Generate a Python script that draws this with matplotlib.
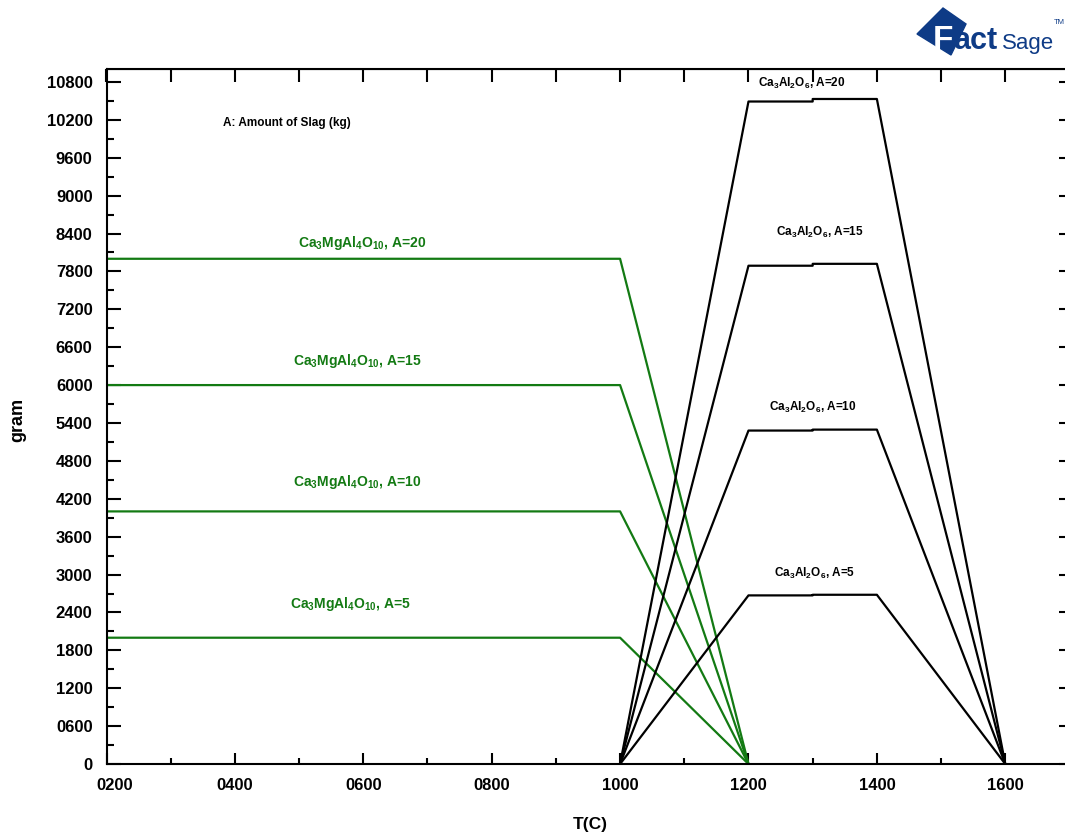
import matplotlib
matplotlib.use('Agg')
import matplotlib.pyplot as plt
from matplotlib.patches import Polygon
from matplotlib.transforms import ScaledTranslation

plt.rcParams['font.family'] = ['Liberation Sans', 'DejaVu Sans']
plt.rcParams['font.weight'] = 'bold'
plt.rcParams['mathtext.fontset'] = 'custom'
plt.rcParams['mathtext.default'] = 'bf'
plt.rcParams['mathtext.bf'] = 'Liberation Sans:bold'
plt.rcParams['mathtext.rm'] = 'Liberation Sans:bold'

# data
slag_amounts = [20, 15, 10, 5]

# Ca3MgAl4O10 (green): flat up to 1000 C, gone at 1200 C
t_green = [200, 1000, 1200]
green_levels = [8000, 6000, 4000, 2000]

# Ca3Al2O6 (black): appears at 1200 C, small step at 1300 C, gone at 1600 C
t_black = [1000, 1200, 1300, 1300, 1400, 1600]
black_low = [10490, 7890, 5280, 2670]
black_high = [10530, 7920, 5295, 2680]

green_label_pos = [(598, 8250), (590, 6380), (590, 4470), (580, 2530)]
black_label_pos = [(1283, 10770), (1311, 8410), (1300, 5640), (1303, 3010)]

xticks = [200, 400, 600, 800, 1000, 1200, 1400, 1600]
yticks = list(range(0, 11000, 600))

green = '#137a13'

fig = plt.figure(figsize=(10.65, 8.35), dpi=100)
ax = fig.add_axes([0.1, 0.085, 0.9042, 0.832])

for amount, level in zip(slag_amounts, green_levels):
    ax.plot(t_green, [level, level, 0], color=green, lw=1.6)
for low, high in zip(black_low, black_high):
    ax.plot(t_black, [0, low, low, high, high, 0], color='black', lw=1.6)

for amount, (x, y) in zip(slag_amounts, green_label_pos):
    ax.text(x, y, 'Ca$_3$MgAl$_4$O$_{10}$, A=%d' % amount, color=green,
            fontsize=10, ha='center', va='center')
for amount, (x, y) in zip(slag_amounts, black_label_pos):
    ax.text(x, y, 'Ca$_3$Al$_2$O$_6$, A=%d' % amount, color='black',
            fontsize=8.5, ha='center', va='center')
ax.text(481, 10150, 'A: Amount of Slag (kg)', fontsize=8.5, ha='center', va='center')

ax.set_xlim(200, 1700)
ax.set_ylim(0, 11000)
ax.set_xticks(xticks)
ax.set_xticklabels(['%04d' % t for t in xticks])
ax.set_xticks(range(300, 1700, 200), minor=True)
ax.set_yticks(yticks)
ax.set_yticklabels(['0' if v == 0 else '%04d' % v for v in yticks])
ax.set_yticks(range(300, 11000, 600), minor=True)
ax.tick_params(which='major', direction='in', length=8, width=1.5, labelsize=12, pad=10)
ax.tick_params(axis='y', which='major', length=10)
ax.tick_params(which='minor', direction='in', length=4, width=1.5)
ax.tick_params(axis='y', which='minor', length=5)
for sp in ax.spines.values():
    sp.set_linewidth(1.5)

# first x label sits a little right of its tick in the original
first = ax.xaxis.get_majorticklabels()[0]
first.set_transform(first.get_transform() + ScaledTranslation(0.085, 0, fig.dpi_scale_trans))

top = ax.secondary_xaxis('top')
top.set_xticks(range(200, 1701, 100))
top.set_xticklabels([])
top.tick_params(direction='in', length=9, width=1.5)
right = ax.secondary_yaxis('right')
right.set_yticks(yticks)
right.set_yticklabels([])
right.tick_params(direction='in', length=7, width=1.5)

fig.text(0.017, 0.497, 'gram', rotation=90, fontsize=13, ha='center', va='center')
fig.text(0.554, 0.012, 'T(C)', fontsize=12.5, ha='center', va='center')

# FactSage logo
W, H = 1065.0, 835.0
logo_blue = '#0e3b86'
diamond = [(917, 34), (943, 8), (966, 24), (951, 55)]
fig.patches.append(Polygon([(x / W, 1 - y / H) for x, y in diamond], closed=True,
                           transform=fig.transFigure, color=logo_blue, zorder=0))
fig.text(933 / W, 1 - 49 / H, 'F', color='white', fontsize=24, fontweight='heavy',
         ha='left', va='baseline')
fig.text(953 / W, 1 - 49 / H, 'act', color=logo_blue, fontsize=22, fontweight='heavy',
         ha='left', va='baseline')
fig.text(1002 / W, 1 - 49 / H, 'Sage', color=logo_blue, fontsize=16, fontweight='normal',
         ha='left', va='baseline')
fig.text(1054 / W, 1 - 22 / H, 'TM', color=logo_blue, fontsize=5.5, fontweight='normal',
         ha='left', va='center')

fig.savefig('out.png', dpi=100)
